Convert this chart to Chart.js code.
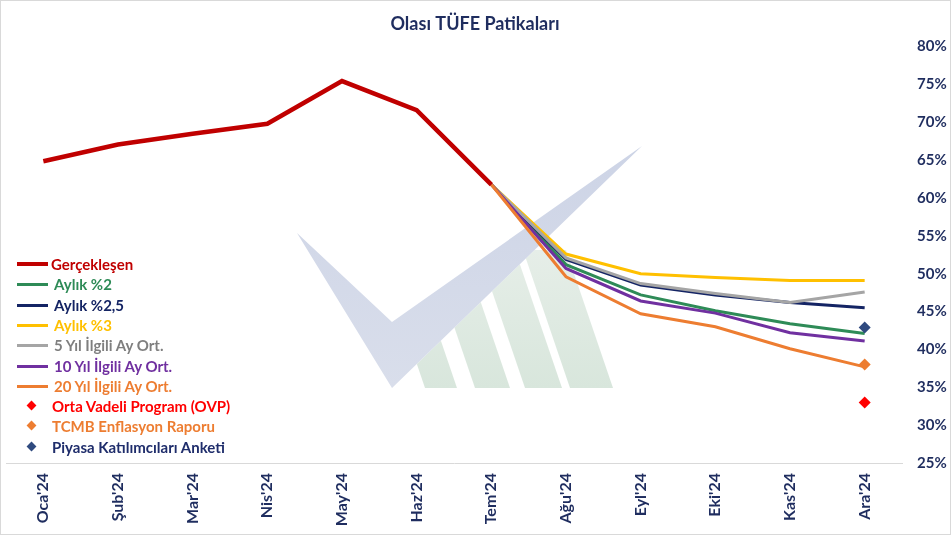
<!DOCTYPE html>
<html>
<head>
<meta charset="utf-8">
<script src="https://cdn.jsdelivr.net/npm/chart.js@4.4.1/dist/chart.umd.min.js"></script>
<style>
  html, body { margin: 0; padding: 0; background: #fff; }
  #wrap { position: relative; width: 951px; height: 535px; overflow: hidden; background: #fff; }
  #wm { position: absolute; left: 0; top: 0; }
  #box { position: absolute; left: 0; top: 0; width: 951px; height: 535px; }
  #frame { position: absolute; left: 0; top: 0; width: 949px; height: 533px; border: 1px solid #D9D9D9; pointer-events: none; }
  #legend { position: absolute; left: 0; top: 0; font-family: Lato, "Open Sans", sans-serif; font-weight: 700; font-size: 15px; }
  .item { position: absolute; left: 0; height: 20px; white-space: nowrap; }
  .item .ln { position: absolute; left: 17px; width: 31px; top: 9px; }
  .item .dm { position: absolute; left: 28px; top: 6px; width: 7px; height: 7px; transform: rotate(45deg); }
  .item .tx { position: absolute; top: 0; line-height: 20px; }
</style>
</head>
<body>
<div id="wrap">
  <svg id="wm" width="951" height="535">
    <defs>
      <clipPath id="below">
        <polygon points="392,388 642,146 700,146 700,388"/>
      </clipPath>
      <linearGradient id="gs" x1="0" y1="0" x2="0" y2="1">
        <stop offset="0" stop-color="#E6EEE8"/>
        <stop offset="1" stop-color="#D8E6DC"/>
      </linearGradient>
      <linearGradient id="gc" x1="0" y1="0" x2="0" y2="1">
        <stop offset="0" stop-color="#CDD4E6"/>
        <stop offset="1" stop-color="#D9DEEB"/>
      </linearGradient>
    </defs>
    <g fill="url(#gs)" clip-path="url(#below)">
      <polygon points="378,250 410,250 457,388 425,388"/>
      <polygon points="428,250 463,250 510,388 475,388"/>
      <polygon points="478,250 515,250 562,388 525,388"/>
      <polygon points="523,250 566,250 613,388 570,388"/>
    </g>
    <polygon fill="url(#gc)" points="297,233 392,322 642,146 392,388"/>
  </svg>
  <div id="box"><canvas id="c" width="951" height="535"></canvas></div>
  <div id="legend"></div>
  <div id="frame"></div>
</div>
<script>
const months = ["Oca'24","Şub'24","Mar'24","Nis'24","May'24","Haz'24","Tem'24","Ağu'24","Eyl'24","Eki'24","Kas'24","Ara'24"];
const yTicks = [25, 30, 35, 40, 45, 50, 55, 60, 65, 70, 75, 80];

const gerceklesen = [64.86, 67.07, 68.50, 69.80, 75.45, 71.60, 61.78, null, null, null, null, null];
const aylik2      = [null, null, null, null, null, null, 61.78, 51.2, 47.2, 45.1, 43.4, 42.1];
const aylik25     = [null, null, null, null, null, null, 61.78, 51.9, 48.5, 47.2, 46.2, 45.5];
const aylik3      = [null, null, null, null, null, null, 61.78, 52.6, 50.0, 49.5, 49.1, 49.1];
const yil5        = [null, null, null, null, null, null, 61.78, 52.1, 48.7, 47.4, 46.2, 47.6];
const yil10       = [null, null, null, null, null, null, 61.78, 50.7, 46.4, 44.8, 42.2, 41.1];
const yil20       = [null, null, null, null, null, null, 61.78, 49.6, 44.7, 43.0, 40.1, 37.7];
const ovp         = [null, null, null, null, null, null, null, null, null, null, null, 33.0];
const tcmb        = [null, null, null, null, null, null, null, null, null, null, null, 38.0];
const piyasa      = [null, null, null, null, null, null, null, null, null, null, null, 42.9];

const seriesNames = ["Gerçekleşen","Aylık %2","Aylık %2,5","Aylık %3","5 Yıl İlgili Ay Ort.","10 Yıl İlgili Ay Ort.","20 Yıl İlgili Ay Ort.","Orta Vadeli Program (OVP)","TCMB Enflasyon Raporu","Piyasa Katılımcıları Anketi"];

const NAVY = '#1F2D5F';
const lineDefs = [
  { data: gerceklesen, color: '#C00000', text: '#C00000', width: 4.5 },
  { data: aylik2,  color: '#2E8B57', text: '#2E8B57', width: 3 },
  { data: aylik25, color: '#142464', text: '#142464', width: 3 },
  { data: aylik3,  color: '#FFC000', text: '#FFC000', width: 3 },
  { data: yil5,    color: '#A5A5A5', text: '#7F7F7F', width: 3 },
  { data: yil10,   color: '#7030A0', text: '#7030A0', width: 3 },
  { data: yil20,   color: '#ED7D31', text: '#ED7D31', width: 3 }
];
const pointDefs = [
  { data: ovp,    color: '#FF0000', text: '#FF0000' },
  { data: tcmb,   color: '#ED7D31', text: '#ED7D31' },
  { data: piyasa, color: '#2F4A7F', text: '#1F2D6B' }
];

const datasets = [];
lineDefs.forEach((d, i) => {
  datasets.push({
    label: seriesNames[i], data: d.data, borderColor: d.color, backgroundColor: d.color,
    borderWidth: d.width, pointRadius: 0, pointHoverRadius: 0, tension: 0, spanGaps: false,
    order: i === 0 ? 0 : 10 - i
  });
});
pointDefs.forEach((d, j) => {
  datasets.push({
    label: seriesNames[7 + j], data: d.data, borderColor: d.color, backgroundColor: d.color,
    showLine: false, pointStyle: 'rectRot', pointRadius: 6, borderWidth: 0, order: -1
  });
});

// HTML legend
const legend = document.getElementById('legend');
const rowTops = 254, rowStep = 20.3;
seriesNames.forEach((name, i) => {
  const el = document.createElement('div');
  el.className = 'item';
  el.style.top = (rowTops + i * rowStep) + 'px';
  if (i < 7) {
    const d = lineDefs[i];
    const ln = document.createElement('div');
    ln.className = 'ln';
    ln.style.height = (i === 0 ? 4 : 3) + 'px';
    ln.style.top = (i === 0 ? 8 : 9) + 'px';
    ln.style.background = d.color;
    el.appendChild(ln);
    const tx = document.createElement('span');
    tx.className = 'tx'; tx.style.left = (i === 0 ? 51 : 54) + 'px'; tx.style.color = d.text;
    tx.textContent = name; el.appendChild(tx);
  } else {
    const d = pointDefs[i - 7];
    const dm = document.createElement('div');
    dm.className = 'dm'; dm.style.background = d.color;
    el.appendChild(dm);
    const tx = document.createElement('span');
    tx.className = 'tx'; tx.style.left = '52px'; tx.style.color = d.text;
    tx.textContent = name; el.appendChild(tx);
  }
  legend.appendChild(el);
});

new Chart(document.getElementById('c'), {
  type: 'line',
  data: { labels: months, datasets },
  options: {
    responsive: false,
    devicePixelRatio: 1,
    animation: false,
    layout: { padding: { left: 3, right: 4, top: 0, bottom: 0 } },
    plugins: {
      legend: { display: false },
      tooltip: { enabled: false },
      title: {
        display: true, text: 'Olası TÜFE Patikaları', color: NAVY,
        font: { family: 'Lato', size: 18, weight: 'bold' },
        padding: { top: 13, bottom: 12 }
      }
    },
    scales: {
      x: {
        offset: true,
        grid: { display: false, drawTicks: false },
        border: { display: true, color: '#D9D9D9', width: 1 },
        ticks: {
          color: NAVY, font: { family: 'Lato', size: 16, weight: 'bold' },
          minRotation: 90, maxRotation: 90, padding: 10, autoSkip: false
        },
        afterFit: (s) => { s.height = 72; }
      },
      y: {
        position: 'right', min: 25, max: 80,
        afterBuildTicks: (s) => { s.ticks = yTicks.map(v => ({ value: v })); },
        grid: { display: false, drawTicks: false },
        border: { display: false },
        ticks: {
          color: NAVY, font: { family: 'Lato', size: 15, weight: 'bold' },
          padding: 15, callback: (v) => v + '%'
        },
        afterFit: (s) => { s.width = 45; }
      }
    }
  }
});
</script>
</body>
</html>
